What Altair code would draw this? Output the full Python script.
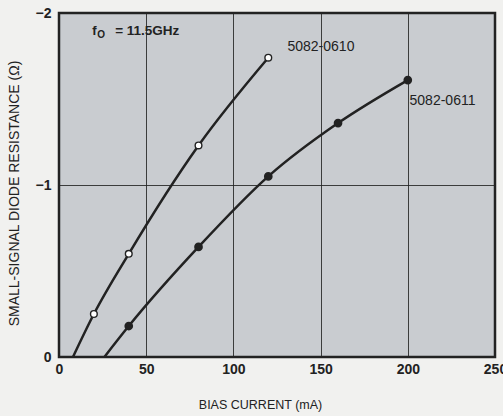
import altair as alt
import pandas as pd

# series 5082-0610 (open circles)
x_0610 = [20, 40, 80, 120]
y_0610 = [-0.25, -0.60, -1.23, -1.74]
x0_0610 = 8  # curve start on zero line
# series 5082-0611 (filled circles)
x_0611 = [40, 80, 120, 160, 200]
y_0611 = [-0.18, -0.64, -1.05, -1.36, -1.61]
x0_0611 = 26

labels = ["5082-0610", "5082-0611"]
label_x = [131, 201]
label_y = [-1.80, -1.49]

x_ticks = [0, 50, 100, 150, 200, 250]
y_ticks = [-2, -1, 0]

line_df = pd.DataFrame(
    {"x": [x0_0610] + x_0610, "y": [0] + y_0610, "s": labels[0]}
)
line_df = pd.concat([line_df, pd.DataFrame(
    {"x": [x0_0611] + x_0611, "y": [0] + y_0611, "s": labels[1]}
)])
open_df = pd.DataFrame({"x": x_0610, "y": y_0610})
fill_df = pd.DataFrame({"x": x_0611, "y": y_0611})
lab_df = pd.DataFrame({"t": labels, "x": label_x, "y": label_y})

ink = "#222222"
font = "Liberation Sans"

xs = alt.Scale(domain=[0, 250], nice=False, zero=False)
ys = alt.Scale(domain=[-2, 0], nice=False, zero=False, reverse=True)

xax = alt.Axis(values=x_ticks, title="BIAS CURRENT (mA)", grid=True, gridColor=ink,
               gridOpacity=0.85, gridWidth=1, ticks=False, domain=False, labelPadding=5,
               labelFontSize=14, labelFont=font, labelColor=ink, labelFontWeight="bold",
               titleFont=font, titleFontSize=12.5, titleFontWeight="normal", titleColor=ink,
               titlePadding=22, titleX=201, labelFlush=False)
yax = alt.Axis(values=y_ticks, tickCount=3, title="SMALL-SIGNAL DIODE RESISTANCE (Ω)",
               grid=True, gridColor=ink, gridOpacity=0.85, gridWidth=1, ticks=False,
               domain=False, labelPadding=8, labelFontSize=14, labelFont=font,
               labelColor=ink, labelFontWeight="bold", titleFont=font, titleFontSize=14,
               titleFontWeight="normal", titleColor=ink, titlePadding=14, titleY=180,
               labelOverlap=False,
               labelExpr="replace(toString(round(datum.value)), '-', '\u2212')")

base = alt.Chart(line_df)
lines = base.mark_line(color=ink, strokeWidth=2.5, interpolate="monotone").encode(
    x=alt.X("x:Q", scale=xs, axis=xax),
    y=alt.Y("y:Q", scale=ys, axis=yax),
    detail="s:N",
)
opens = alt.Chart(open_df).mark_point(shape="circle", filled=True, fill="white",
                                      stroke=ink, strokeWidth=1.4, size=45, opacity=1).encode(
    x=alt.X("x:Q", scale=xs), y=alt.Y("y:Q", scale=ys))
fills = alt.Chart(fill_df).mark_point(shape="circle", filled=True, fill=ink,
                                      stroke=ink, size=45, opacity=1).encode(
    x=alt.X("x:Q", scale=xs), y=alt.Y("y:Q", scale=ys))
texts = alt.Chart(lab_df).mark_text(align="left", baseline="middle", font=font,
                                    fontSize=14, color=ink).encode(
    x=alt.X("x:Q", scale=xs), y=alt.Y("y:Q", scale=ys), text="t:N")
f_df = pd.DataFrame({"x": [19], "y": [-1.895]})
f1 = alt.Chart(f_df).mark_text(align="left", baseline="middle", font=font, fontSize=13,
                               color=ink, fontWeight="bold", text="f").encode(
    x=alt.X("x:Q", scale=xs), y=alt.Y("y:Q", scale=ys))
f2 = alt.Chart(f_df).mark_text(align="left", baseline="middle", font=font, fontSize=10,
                               color=ink, fontWeight="bold", text="O", dx=5, dy=4).encode(
    x=alt.X("x:Q", scale=xs), y=alt.Y("y:Q", scale=ys))
f3 = alt.Chart(f_df).mark_text(align="left", baseline="middle", font=font, fontSize=13.5,
                               color=ink, fontWeight="bold", text="= 11.5GHz", dx=23).encode(
    x=alt.X("x:Q", scale=xs), y=alt.Y("y:Q", scale=ys))

chart = alt.layer(lines, opens, fills, texts, f1, f2, f3).properties(
    width=436, height=344,
    autosize=alt.AutoSizeParams(type="none"),
    padding={"left": 59, "top": 13, "right": 8, "bottom": 59},
    background="#f1f1ef",
).configure_view(fill="#c9ccd0", stroke=ink, strokeWidth=2.5)

chart.save("out.html", embed_options={"renderer": "svg", "actions": False})
